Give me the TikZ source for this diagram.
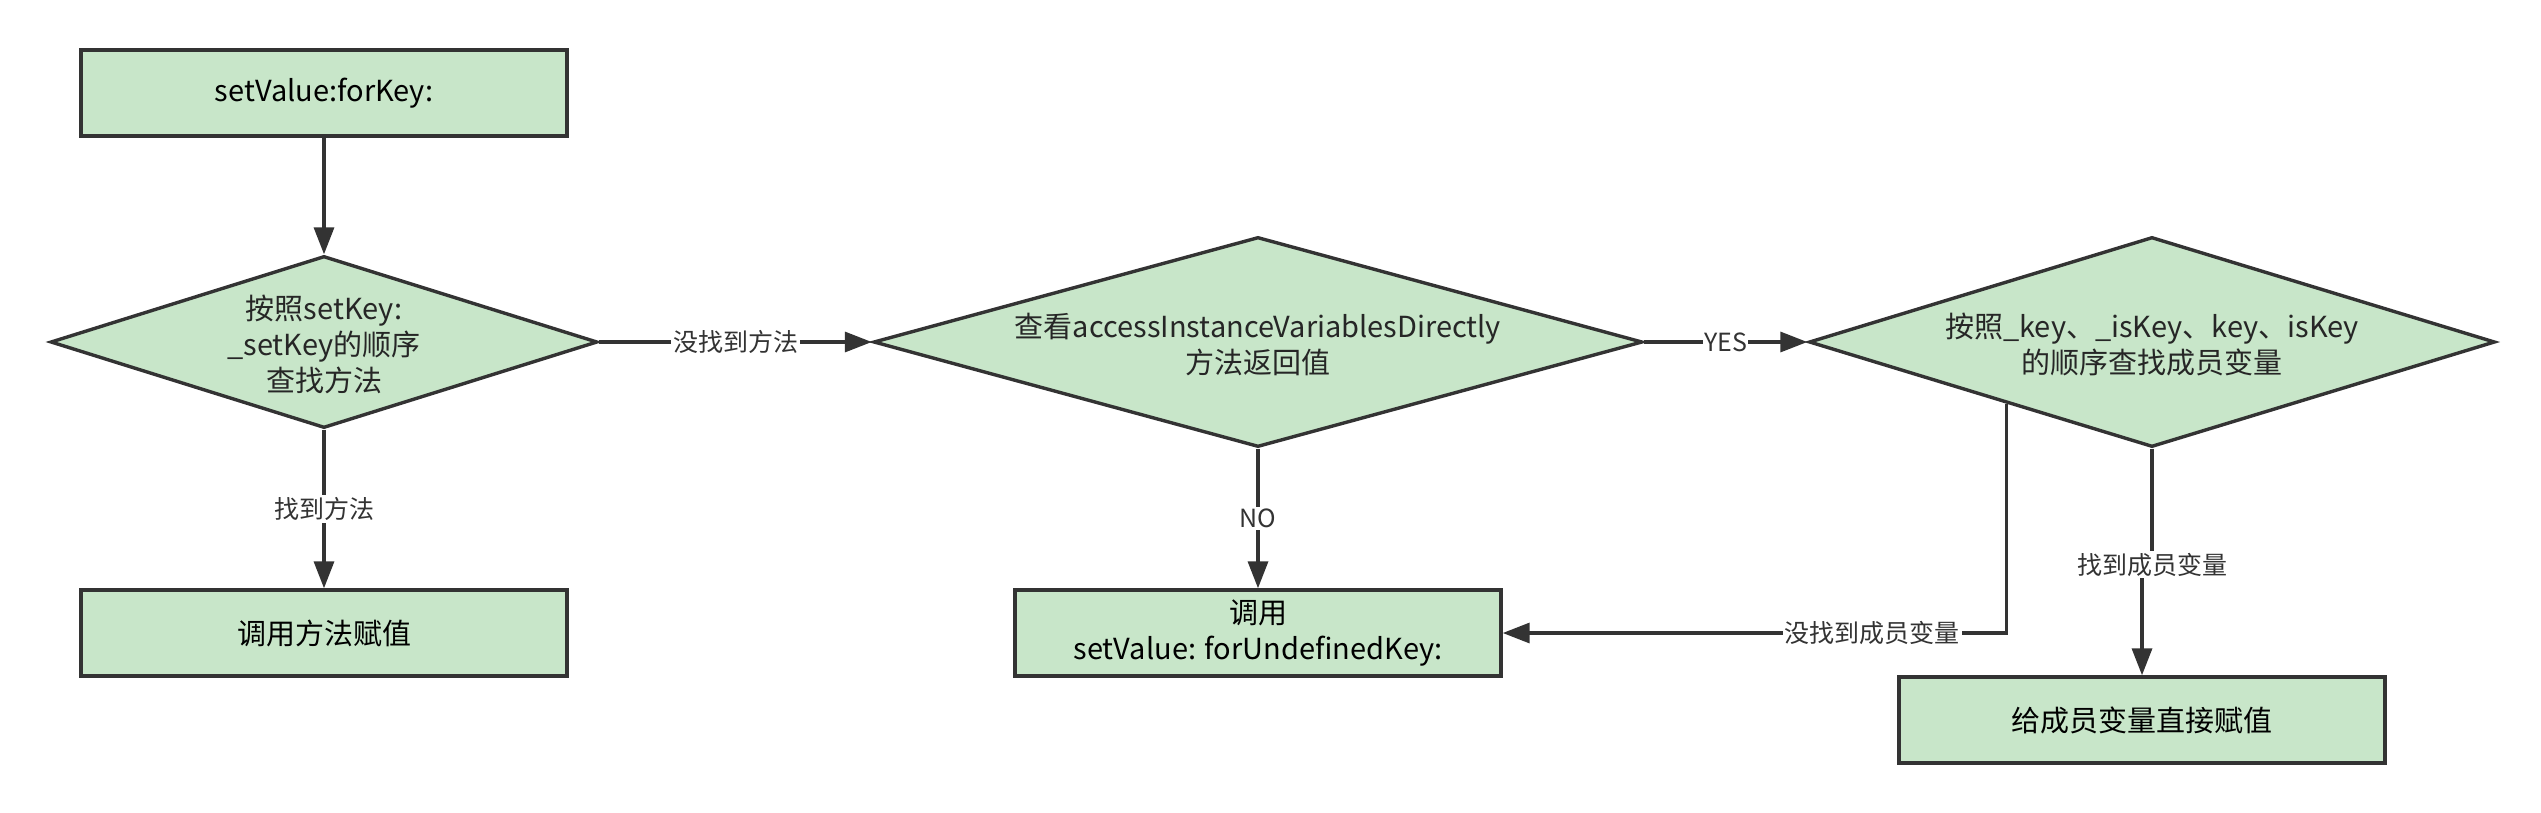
\documentclass[tikz,border=0pt]{standalone}
\usepackage{fontspec}
\setmainfont{Noto Sans CJK SC}
\usetikzlibrary{shapes.geometric,arrows.meta,calc}
\definecolor{boxfill}{HTML}{C8E6C9}
\definecolor{ink}{HTML}{333333}
\tikzset{
  stepbox/.style={draw=ink, fill=boxfill, line width=3.4pt, rectangle, inner sep=0pt,
    minimum width=486pt, minimum height=86pt, align=center, text=black,
    font=\fontsize{29}{36}\selectfont},
  dia/.style={draw=ink, fill=boxfill, line width=3.4pt, diamond, inner sep=0pt},
  diatext/.style={align=center, text=black!85, font=\fontsize{29}{36}\selectfont, inner sep=0pt},
  lbl/.style={fill=white, text=ink, inner sep=2pt, font=\fontsize{25}{30}\selectfont},
  arr/.style={draw=ink, line width=3.4pt, -{Triangle[length=27pt,width=20pt]}}
}
\begin{document}
\begin{tikzpicture}[x=1pt,y=-1pt]
\useasboundingbox (0,0) rectangle (2541,812);
% nodes
\node[stepbox] (b1) at (324,93) {setValue:forKey:};
\node[dia, minimum width=547pt, minimum height=172pt] (d1) at (324,342) {};
\node[diatext] (t1) at (324,344) {按照setKey:\\\_setKey的顺序\\查找方法};
\node[stepbox] (b2) at (324,633) {调用方法赋值};
\node[dia, minimum width=769pt, minimum height=210pt] (d2) at (1258,342) {};
\node[diatext] (t2) at (1258,345) {查看accessInstanceVariablesDirectly\\方法返回值};
\node[stepbox] (b3) at (1258,633) {调用\\setValue: forUndefinedKey:};
\node[dia, minimum width=686pt, minimum height=210pt] (d3) at (2152,342) {};
\node[diatext] (t3) at (2152,345) {按照\_key、\_isKey、key、isKey\\的顺序查找成员变量};
\node[stepbox] (b4) at (2142,720) {给成员变量直接赋值};
% connectors
\draw[arr] (b1.south) -- (d1.north);
\draw[arr] (d1.south) -- node[lbl]{找到方法} (b2.north);
\draw[arr] (d1.east) -- node[lbl]{没找到方法} (d2.west);
\draw[arr] (d2.east) -- node[lbl, inner sep=1pt]{YES} (d3.west);
\draw[arr] (d2.south) -- node[lbl]{NO} (b3.north);
\coordinate (c3) at ($(d3.west)!0.577!(d3.south)$);
\draw[arr] (c3) |- node[lbl, pos=0.633]{没找到成员变量} (b3.east);
\draw[arr] (d3.south) -- ++(0,116) node[lbl]{找到成员变量} -| (b4.north);
\end{tikzpicture}
\end{document}
